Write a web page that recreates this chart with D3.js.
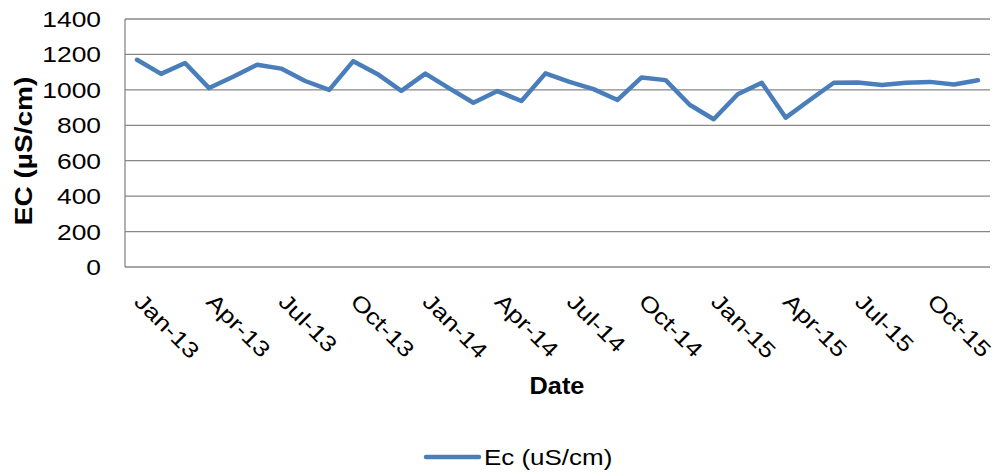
<!DOCTYPE html>
<html>
<head>
<meta charset="utf-8">
<script src="https://cdn.jsdelivr.net/npm/d3@7"></script>
<style>
  body { margin: 0; background: #fff; }
  text { font-family: Arial, "Liberation Sans", sans-serif; fill: #000; }
</style>
</head>
<body>
<script>
const months = ["Jan-13","Feb-13","Mar-13","Apr-13","May-13","Jun-13","Jul-13","Aug-13","Sep-13","Oct-13","Nov-13","Dec-13",
                "Jan-14","Feb-14","Mar-14","Apr-14","May-14","Jun-14","Jul-14","Aug-14","Sep-14","Oct-14","Nov-14","Dec-14",
                "Jan-15","Feb-15","Mar-15","Apr-15","May-15","Jun-15","Jul-15","Aug-15","Sep-15","Oct-15","Nov-15","Dec-15"];
const ecValues = [1170,1090,1152,1010,1074,1142,1120,1050,1000,1162,1090,994,
                  1092,1008,927,993,937,1093,1045,1004,943,1070,1055,916,
                  834,975,1040,843,943,1040,1042,1027,1040,1045,1030,1054];
const xTickLabels = ["Jan-13","Apr-13","Jul-13","Oct-13","Jan-14","Apr-14","Jul-14","Oct-14","Jan-15","Apr-15","Jul-15","Oct-15"];
const yTicks = [0,200,400,600,800,1000,1200,1400];
const seriesName = "Ec (uS/cm)";

const w = 995, h = 475;
const plotLeft = 125, plotRight = 990, plotTop = 19, plotBottom = 267;
const gridColor = "#878787";
const lineColor = "#4a7ebb";

let svg = d3.select("body").append("svg")
    .attr("width", w)
    .attr("height", h);

let x = d3.scalePoint()
    .domain(months)
    .range([plotLeft, plotRight])
    .padding(0.5);

let y = d3.scaleLinear()
    .domain([0, 1400])
    .range([plotBottom, plotTop]);

// gridlines
svg.append("g")
    .selectAll("line")
    .data(yTicks.filter(d => d > 0))
    .enter()
    .append("line")
    .attr("x1", plotLeft)
    .attr("x2", plotRight)
    .attr("y1", d => y(d))
    .attr("y2", d => y(d))
    .style("stroke", gridColor)
    .style("stroke-width", 1.3);

// axes lines
svg.append("line")
    .attr("x1", plotLeft).attr("x2", plotLeft)
    .attr("y1", y(1400)).attr("y2", y(0))
    .style("stroke", gridColor).style("stroke-width", 1.3);
svg.append("line")
    .attr("x1", plotLeft).attr("x2", plotRight)
    .attr("y1", y(0)).attr("y2", y(0))
    .style("stroke", gridColor).style("stroke-width", 1.3);

// y tick labels
svg.append("g")
    .selectAll("text")
    .data(yTicks)
    .enter()
    .append("text")
    .attr("transform", d => `translate(101,${y(d) + 8}) scale(1.2,1)`)
    .attr("text-anchor", "end")
    .style("font-size", "22px")
    .text(d => d);

// x tick labels
svg.append("g")
    .selectAll("text")
    .data(xTickLabels)
    .enter()
    .append("text")
    .attr("transform", d => `translate(${x(d) - 4},${plotBottom + 36}) rotate(45) scale(1.2,1)`)
    .attr("text-anchor", "start")
    .style("font-size", "22px")
    .text(d => d);

// axis titles
svg.append("text")
    .attr("transform", "translate(32,151) rotate(-90) scale(1.22,1)")
    .attr("text-anchor", "middle")
    .style("font-size", "23px")
    .style("font-weight", "bold")
    .text("EC (µS/cm)");

svg.append("text")
    .attr("transform", "translate(557,394) scale(1.1,1)")
    .attr("text-anchor", "middle")
    .style("font-size", "23px")
    .style("font-weight", "bold")
    .text("Date");

// series line
let line = d3.line()
    .x((d, i) => x(months[i]))
    .y(d => y(d));

svg.append("path")
    .datum(ecValues)
    .attr("d", line)
    .style("fill", "none")
    .style("stroke", lineColor)
    .style("stroke-width", 4.5)
    .style("stroke-linejoin", "round")
    .style("stroke-linecap", "round");

// legend
let legend = svg.append("g");
legend.append("line")
    .attr("x1", 426).attr("x2", 479)
    .attr("y1", 457).attr("y2", 457)
    .style("stroke", lineColor)
    .style("stroke-width", 4.5)
    .style("stroke-linecap", "round");
legend.append("text")
    .attr("transform", "translate(484,465) scale(1.18,1)")
    .style("font-size", "22px")
    .text(seriesName);
</script>
</body>
</html>
